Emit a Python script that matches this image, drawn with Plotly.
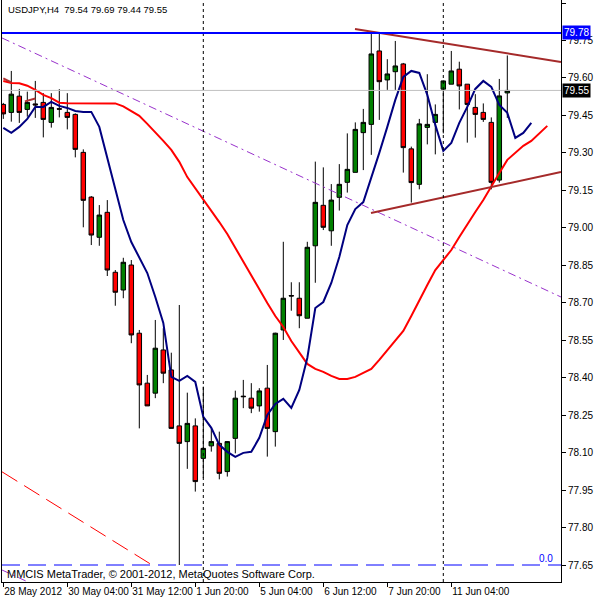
import plotly.graph_objects as go

# ---------------- data ----------------
title_text = "USDJPY,H4  79.54 79.69 79.44 79.55"
copyright_text = "MMCIS MetaTrader, © 2001-2012, MetaQuotes Software Corp."

bars = list(range(64))
opens = [79.494, 79.462, 79.527, 79.474, 79.496, 79.502, 79.422, 79.477, 79.462, 79.454,
         79.302, 79.123, 78.962, 79.062, 78.822, 78.751, 78.851, 78.578, 78.378, 78.338,
         78.511, 78.431, 78.207, 78.144, 78.207, 78.077, 78.127, 78.137, 78.024, 78.157,
         78.326, 78.318, 78.287, 78.358, 78.184, 78.591, 78.729, 78.718, 78.638, 78.928,
         79.090, 78.988, 79.122, 79.182, 79.222, 79.381, 79.414, 79.708, 79.592, 79.625,
         79.656, 79.316, 79.174, 79.402, 79.422, 79.555, 79.575, 79.635, 79.575, 79.482,
         79.462, 79.422, 79.191, 79.54]
highs = [79.500, 79.628, 79.556, 79.545, 79.588, 79.539, 79.539, 79.555, 79.539, 79.458,
         79.314, 79.127, 79.091, 79.111, 78.831, 78.880, 78.871, 78.591, 78.411, 78.631,
         78.598, 78.500, 78.691, 78.340, 78.237, 78.364, 78.197, 78.184, 78.146, 78.348,
         78.391, 78.378, 78.358, 78.451, 78.580, 78.944, 78.782, 78.782, 78.944, 79.265,
         79.242, 79.175, 79.255, 79.378, 79.422, 79.476, 79.779, 79.779, 79.675, 79.748,
         79.660, 79.325, 79.436, 79.615, 79.494, 79.590, 79.708, 79.665, 79.575, 79.535,
         79.498, 79.442, 79.596, 79.69]
lows = [79.436, 79.425, 79.420, 79.445, 79.440, 79.362, 79.401, 79.442, 79.394, 79.282,
        79.002, 78.931, 78.928, 78.807, 78.688, 78.718, 78.538, 78.197, 78.287, 78.318,
        78.378, 78.197, 77.650, 78.035, 77.944, 77.998, 78.104, 77.993, 78.004, 78.097,
        78.278, 78.258, 78.264, 78.084, 78.124, 78.551, 78.668, 78.598, 78.638, 78.780,
        78.991, 78.928, 79.069, 79.141, 79.222, 79.231, 79.292, 79.432, 79.552, 79.552,
        79.221, 79.101, 79.154, 79.334, 79.294, 79.378, 79.575, 79.474, 79.341, 79.361,
        79.424, 79.154, 79.181, 79.44]
closes = [79.456, 79.535, 79.462, 79.502, 79.492, 79.434, 79.482, 79.475, 79.442, 79.314,
          79.110, 78.971, 79.051, 78.831, 78.742, 78.862, 78.571, 78.371, 78.287, 78.518,
          78.418, 78.197, 78.137, 78.217, 77.984, 78.117, 78.144, 78.017, 78.144, 78.318,
          78.324, 78.278, 78.347, 78.197, 78.578, 78.718, 78.727, 78.648, 78.922, 79.102,
          79.002, 79.111, 79.174, 79.234, 79.394, 79.422, 79.696, 79.585, 79.616, 79.648,
          79.321, 79.181, 79.416, 79.414, 79.454, 79.588, 79.628, 79.568, 79.494, 79.454,
          79.434, 79.182, 79.528, 79.55]

# moving averages (drawn shifted forward, so they run past the last bar)
ma_fast = [79.400, 79.380, 79.404, 79.436, 79.484, 79.484, 79.504, 79.488, 79.480, 79.468,
           79.464, 79.464, 79.404, 79.280, 79.151, 79.031, 78.943, 78.883, 78.819, 78.723,
           78.619, 78.403, 78.387, 78.407, 78.383, 78.243, 78.199, 78.131, 78.103, 78.083,
           78.099, 78.103, 78.159, 78.251, 78.295, 78.315, 78.279, 78.351, 78.479, 78.679,
           78.703, 78.779, 78.883, 79.011, 79.075, 79.103, 79.199, 79.300, 79.404, 79.512,
           79.604, 79.628, 79.620, 79.532, 79.412, 79.308, 79.340, 79.420, 79.484, 79.556,
           79.588, 79.564, 79.492, 79.460, 79.360, 79.380, 79.420]
ma_slow = [79.588, 79.580, 79.579, 79.569, 79.552, 79.532, 79.519, 79.501, 79.499, 79.499,
           79.499, 79.500, 79.501, 79.499, 79.498, 79.486, 79.468, 79.448, 79.416, 79.384,
           79.348, 79.312, 79.264, 79.203, 79.159, 79.111, 79.067, 79.023, 78.975, 78.919,
           78.863, 78.811, 78.751, 78.699, 78.647, 78.603, 78.547, 78.503, 78.455, 78.435,
           78.423, 78.407, 78.395, 78.395, 78.403, 78.419, 78.435, 78.471, 78.511, 78.551,
           78.587, 78.647, 78.711, 78.771, 78.831, 78.871, 78.911, 78.963, 79.015, 79.063,
           79.111, 79.167, 79.219, 79.272, 79.300, 79.328, 79.348, 79.376, 79.408]
ma_extra_x = [0, 1, None, 2.7, 4]
ma_extra = [79.598, 79.582, None, 79.506, 79.518]

x_tick_bars = [0, 8, 16, 24, 32, 40, 48, 56]
x_tick_labels = ["28 May 2012", "30 May 04:00", "31 May 12:00", "1 Jun 20:00",
                 "5 Jun 04:00", "6 Jun 12:00", "7 Jun 20:00", "11 Jun 04:00"]
price_ticks = [77.65, 77.80, 77.95, 78.10, 78.25, 78.40, 78.55, 78.70,
               78.85, 79.00, 79.15, 79.30, 79.45, 79.60, 79.75, 79.90]
separator_bars = [25, 55]

resistance_level = 79.78
bid_level = 79.55
fib_zero_level = 77.65

upper_trend_x, upper_trend_y = [43.96, 69.71], [79.796, 79.664]
lower_trend_x, lower_trend_y = [45.96, 69.71], [79.059, 79.2235]
channel_top_x, channel_top_y = [-0.16, 69.71], [79.760, 78.723]
channel_bot_x, channel_bot_y = [-0.16, 3.5], [77.630, 77.576]
red_ray_x, red_ray_y = [-0.16, 18.6], [78.023, 77.650]

x_range = [-0.1625, 69.7125]
y_range = [77.582, 79.912]

FONT = "Liberation Sans, Arial, sans-serif"

# ---------------- figure ----------------
fig = go.Figure()

fig.add_trace(go.Candlestick(
    x=bars, open=opens, high=highs, low=lows, close=closes,
    increasing=dict(fillcolor="#008000", line=dict(color="black", width=1)),
    decreasing=dict(fillcolor="#FF0000", line=dict(color="black", width=1)),
    whiskerwidth=0, showlegend=False, hoverinfo="skip"))

fig.add_trace(go.Scatter(x=list(range(len(ma_slow))), y=ma_slow, mode="lines",
                         line=dict(color="#FF0000", width=2), showlegend=False, hoverinfo="skip"))
fig.add_trace(go.Scatter(x=list(range(len(ma_fast))), y=ma_fast, mode="lines",
                         line=dict(color="#000080", width=2), showlegend=False, hoverinfo="skip"))
fig.add_trace(go.Scatter(x=ma_extra_x, y=ma_extra, mode="lines", connectgaps=False,
                         line=dict(color="#B03030", width=2), showlegend=False, hoverinfo="skip"))

# drawn objects
fig.add_trace(go.Scatter(x=channel_top_x, y=channel_top_y, mode="lines",
                         line=dict(color="#9932CC", width=1, dash="8px,4px,2px,4px"),
                         showlegend=False, hoverinfo="skip"))
fig.add_trace(go.Scatter(x=channel_bot_x, y=channel_bot_y, mode="lines",
                         line=dict(color="#9932CC", width=1, dash="8px,4px,2px,4px"),
                         showlegend=False, hoverinfo="skip"))
fig.add_trace(go.Scatter(x=red_ray_x, y=red_ray_y, mode="lines",
                         line=dict(color="#FF0000", width=1, dash="18px,8px"),
                         showlegend=False, hoverinfo="skip"))
fig.add_trace(go.Scatter(x=upper_trend_x, y=upper_trend_y, mode="lines",
                         line=dict(color="#A52A2A", width=2), showlegend=False, hoverinfo="skip"))
fig.add_trace(go.Scatter(x=lower_trend_x, y=lower_trend_y, mode="lines",
                         line=dict(color="#A52A2A", width=2), showlegend=False, hoverinfo="skip"))

shapes = []
for sb in separator_bars:
    shapes.append(dict(type="line", xref="x", yref="paper", x0=sb, x1=sb, y0=0, y1=1,
                       line=dict(color="black", width=1, dash="3px,3px")))
shapes.append(dict(type="line", xref="paper", yref="y", x0=0, x1=1,
                   y0=bid_level, y1=bid_level, line=dict(color="#C0C0C0", width=1)))
shapes.append(dict(type="line", xref="paper", yref="y", x0=0, x1=1,
                   y0=resistance_level, y1=resistance_level, line=dict(color="#0000FF", width=2)))
shapes.append(dict(type="line", xref="paper", yref="y", x0=0, x1=1,
                   y0=fib_zero_level, y1=fib_zero_level,
                   line=dict(color="#0000FF", width=1, dash="18px,8px")))

annotations = [
    dict(text=title_text, xref="paper", yref="paper", x=0, y=1, xanchor="left", yanchor="top",
         xshift=4, yshift=-2, showarrow=False, font=dict(family=FONT, size=9.5, color="black")),
    dict(text=copyright_text, xref="paper", yref="paper", x=0, y=0, xanchor="left", yanchor="bottom",
         xshift=3, yshift=0, showarrow=False, font=dict(family=FONT, size=11, color="black")),
    dict(text="0.0", xref="paper", yref="y", x=1, y=fib_zero_level, xanchor="right", yanchor="bottom",
         xshift=-6, yshift=-1, showarrow=False, font=dict(family=FONT, size=10, color="#0000FF")),
    dict(text="%.2f" % resistance_level, xref="paper", yref="y", x=1, y=resistance_level,
         xanchor="left", yanchor="middle", xshift=1, showarrow=False, bgcolor="#0000FF",
         borderpad=1, font=dict(family=FONT, size=10, color="white")),
    dict(text="%.2f" % bid_level, xref="paper", yref="y", x=1, y=bid_level,
         xanchor="left", yanchor="middle", xshift=1, showarrow=False, bgcolor="black",
         borderpad=1, font=dict(family=FONT, size=10, color="white")),
]

fig.update_layout(
    width=600, height=600,
    margin=dict(l=2, r=39, t=0, b=18, autoexpand=False),
    paper_bgcolor="white", plot_bgcolor="white",
    boxgap=0.3, boxgroupgap=0.2,
    showlegend=False,
    shapes=shapes, annotations=annotations,
    font=dict(family=FONT, size=10, color="black"),
    xaxis=dict(range=x_range, rangeslider=dict(visible=False), showgrid=False, zeroline=False,
               showline=True, linecolor="black", linewidth=1, mirror=True,
               tickmode="array", tickvals=x_tick_bars, ticktext=x_tick_labels,
               ticks="outside", ticklen=4, tickcolor="black", tickangle=0,
               ticklabelposition="outside right", automargin=False,
               tickfont=dict(family=FONT, size=10, color="black")),
    yaxis=dict(range=y_range, side="right", showgrid=False, zeroline=False,
               showline=True, linecolor="black", linewidth=1, mirror=True,
               tickmode="array", tickvals=price_ticks, tickformat=".2f",
               ticks="outside", ticklen=4, tickcolor="black", automargin=False,
               tickfont=dict(family=FONT, size=10, color="black")),
)

fig.write_html("out.html",
               config={"displayModeBar": False},
               post_script="document.body.style.margin='0';document.body.style.padding='0';")
